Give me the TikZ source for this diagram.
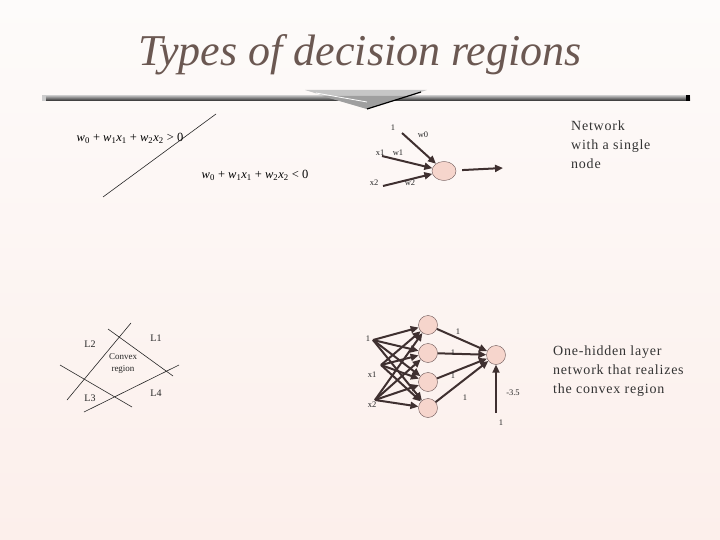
\documentclass[tikz,border=0pt]{standalone}
\usepackage{fontspec}
\setmainfont{Liberation Serif}
\usetikzlibrary{arrows.meta,shapes.geometric}
\definecolor{arrowc}{HTML}{3F3030}
\definecolor{nodefill}{HTML}{F6D5CC}
\definecolor{nodedraw}{HTML}{6A5555}
\definecolor{titlec}{HTML}{6B5852}
\definecolor{bgtop}{HTML}{FDFBFA}
\definecolor{bgbot}{HTML}{FCEFEB}
\newcommand\myw[1]{\textit{w}\textsubscript{#1}}
\newcommand\myx[1]{\textit{x}\textsubscript{#1}}
\begin{document}
\begin{tikzpicture}[x=1pt,y=-1pt,
  arr/.style={-{Triangle[length=8pt,width=7pt]}, line width=2pt, draw=arrowc},
  neuron/.style={circle, draw=nodedraw, fill=nodefill, minimum size=19pt, inner sep=0pt},
  lbl/.style={font=\fontsize{8.5}{9}\selectfont, inner sep=0pt, text=black!85},
  llbl/.style={font=\fontsize{10}{11}\selectfont, inner sep=0pt, text=black!85},
  eq/.style={font=\fontsize{12.5}{14}\selectfont, inner sep=0pt},
  txt/.style={font=\fontsize{14}{19}\selectfont\addfontfeatures{LetterSpace=5.5}, align=left, anchor=north west, inner sep=0pt, text=black!80},
  bline/.style={line width=0.6pt, draw=black!85}]
% background
\shade[top color=bgtop, bottom color=bgbot] (0,0) rectangle (720,540);
\useasboundingbox (0,0) rectangle (720,540);
% title
\node[font=\fontsize{44}{50}\selectfont\itshape, text=titlec, inner sep=0pt] (title) at (360,55) {Types of decision regions};
% bar
\shade[top color=gray!60, bottom color=black!85] (42,96) rectangle (690,101);
\fill[gray!40] (42,95) rectangle (46,101);
\fill[black] (686,95) rectangle (690,101);
\fill[gray!45] (305,90) -- (427,90) -- (367,109) -- cycle;
\fill[gray!75] (322,96) -- (408,96) -- (367,109) -- cycle;
\draw[white, line width=0.8pt] (316,93) -- (367,102);
\draw[black, line width=1.2pt] (367,109) -- (421,92);
% decision line
\coordinate (dl1) at (103,197);
\coordinate (dl2) at (216,114);
\draw[bline] (dl1) -- (dl2);
\node[eq] (eq1) at (130,138) {\myw{0} + \myw{1}\myx{1} + \myw{2}\myx{2} > 0};
\node[eq] (eq2) at (255,175) {\myw{0} + \myw{1}\myx{1} + \myw{2}\myx{2} < 0};
% single node network
\node[ellipse, draw=nodedraw, fill=nodefill, minimum width=24pt, minimum height=19pt, inner sep=0pt] (n) at (444,171) {};
\coordinate (b0) at (402,133);
\coordinate (s1) at (382,156);
\coordinate (s2) at (383,186);
\coordinate (out) at (503,168);
\draw[arr] (b0) -- (n);
\draw[arr] (s1) -- (n);
\draw[arr] (s2) -- (n);
\draw[arr, shorten <=6pt] (n) -- (out);
\node[lbl] (l1) at (393,128) {1};
\node[lbl] (lw0) at (423,135) {w0};
\node[lbl] (lx1) at (380,153) {x1};
\node[lbl] (lw1) at (398,153) {w1};
\node[lbl] (lx2) at (374,183) {x2};
\node[lbl] (lw2) at (410,183) {w2};
\node[txt] (t1) at (571,121) {Network\\with a single\\node};
% convex region
\coordinate (a1) at (67,400); \coordinate (a2) at (131,323);
\coordinate (b1) at (108,329); \coordinate (b2) at (173,376);
\coordinate (c1) at (60,365); \coordinate (c2) at (132,407);
\coordinate (d1) at (84,412); \coordinate (d2) at (179,365);
\draw[bline] (a1) -- (a2);
\draw[bline] (b1) -- (b2);
\draw[bline] (c1) -- (c2);
\draw[bline] (d1) -- (d2);
\node[llbl] (L2) at (90,344) {L2};
\node[llbl] (L1) at (156,338) {L1};
\node[llbl] (L3) at (90,398) {L3};
\node[llbl] (L4) at (156,393) {L4};
\node[lbl, align=center, font=\fontsize{9}{12}\selectfont] (cr) at (123,363) {Convex\\region};
% one hidden layer network
\node[neuron] (h1) at (428,325) {};
\node[neuron] (h2) at (428,353) {};
\node[neuron] (h3) at (428,382) {};
\node[neuron] (h4) at (428,408) {};
\node[neuron] (o) at (496,355) {};
\coordinate (i0) at (373,340);
\coordinate (i1) at (381,365);
\coordinate (i2) at (375,400);
\node[lbl] (li0) at (368,339) {1};
\node[lbl] (li1) at (372,375) {x1};
\node[lbl] (li2) at (372,405) {x2};
\foreach \s in {i0,i1,i2}{
  \foreach \h in {h1,h2,h3,h4}{
    \draw[arr] (\s) -- (\h);
  }
}
\foreach \h in {h1,h2,h3,h4}{
  \draw[arr] (\h) -- (o);
}
\node[lbl] (w1) at (458,332) {1};
\node[lbl] (w2) at (453,353) {1};
\node[lbl] (w3) at (453,376) {1};
\node[lbl] (w4) at (465,398) {1};
\coordinate (bias) at (496,413);
\draw[arr] (bias) -- (o);
\node[lbl] (lb) at (513,393) {-3.5};
\node[lbl] (lb1) at (501,423) {1};
\node[txt] (t2) at (553,346) {One-hidden layer\\network that realizes\\the convex region};
\end{tikzpicture}
\end{document}
